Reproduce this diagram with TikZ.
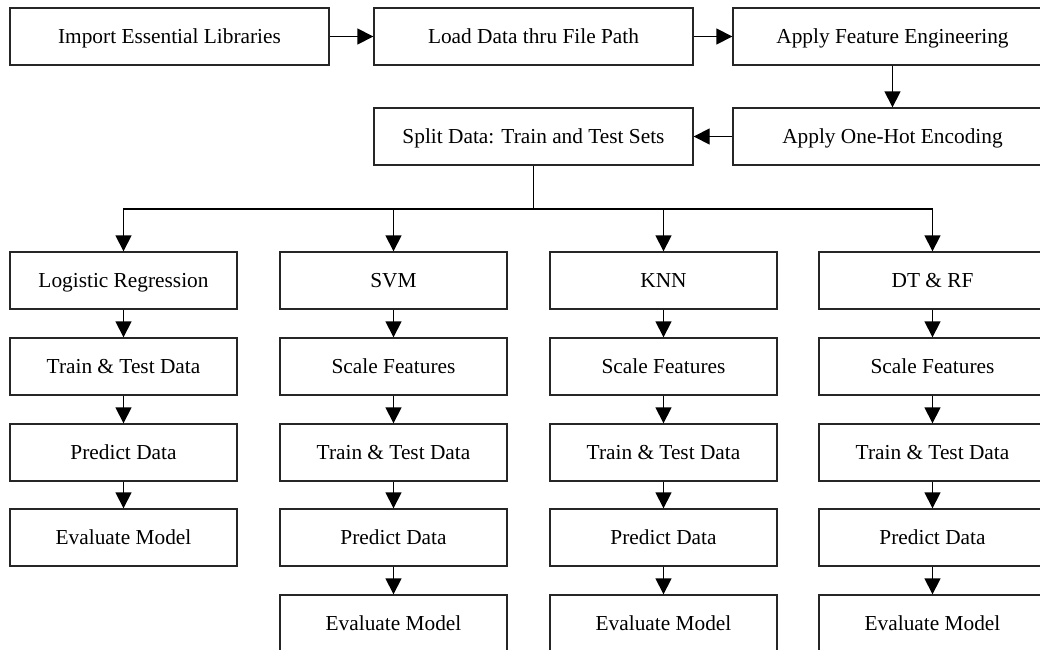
\documentclass[tikz,border=0pt]{standalone}
\usepackage{fontspec}
\setmainfont{Liberation Serif}
\usetikzlibrary{arrows.meta}
\begin{document}
\begin{tikzpicture}[x=0.75pt,y=-0.75pt,
  basebox/.style={draw=black!85, line width=1pt, minimum height=42.75pt, inner sep=0pt, text height=10.8pt, text depth=0pt, font=\fontsize{16}{19}\selectfont},
  topbox/.style={basebox, minimum width=239.25pt},
  colbox/.style={basebox, minimum width=170.25pt},
  arr/.style={line width=1pt, -{Triangle[length=12pt,width=12pt]}},
  plain/.style={line width=1pt}]
\useasboundingbox (0,0) rectangle (1040,650);
\clip (0,0) rectangle (1040,650);
% top rows
\node[topbox] (imp) at (169.5,36.5) {Import Essential Libraries};
\node[topbox] (load) at (533.5,36.5) {Load Data thru File Path};
\node[topbox] (feat) at (892.5,36.5) {Apply Feature Engineering};
\node[topbox] (split) at (533.5,136.5) {Split Data: Train and Test Sets};
\node[topbox] (hot) at (892.5,136.5) {Apply One-Hot Encoding};
\draw[arr] (imp.east) -- (load.west);
\draw[arr] (load.east) -- (feat.west);
\draw[arr] (feat.south) -- (hot.north);
\draw[arr] (hot.west) -- (split.east);
% columns
\node[colbox] (lr) at (123.5,280.5) {Logistic Regression};
\node[colbox] (lrtt) at (123.5,366.5) {Train \& Test Data};
\node[colbox] (lrpd) at (123.5,452.5) {Predict Data};
\node[colbox] (lrev) at (123.5,537.5) {Evaluate Model};
\node[colbox] (svm) at (393.5,280.5) {SVM};
\node[colbox] (svsc) at (393.5,366.5) {Scale Features};
\node[colbox] (svtt) at (393.5,452.5) {Train \& Test Data};
\node[colbox] (svpd) at (393.5,537.5) {Predict Data};
\node[colbox] (svev) at (393.5,623.5) {Evaluate Model};
\node[colbox] (knn) at (663.5,280.5) {KNN};
\node[colbox] (knsc) at (663.5,366.5) {Scale Features};
\node[colbox] (kntt) at (663.5,452.5) {Train \& Test Data};
\node[colbox] (knpd) at (663.5,537.5) {Predict Data};
\node[colbox] (knev) at (663.5,623.5) {Evaluate Model};
\node[colbox] (dt) at (932.5,280.5) {DT \& RF};
\node[colbox] (dtsc) at (932.5,366.5) {Scale Features};
\node[colbox] (dttt) at (932.5,452.5) {Train \& Test Data};
\node[colbox] (dtpd) at (932.5,537.5) {Predict Data};
\node[colbox] (dtev) at (932.5,623.5) {Evaluate Model};
% bus
\coordinate (bus) at (533.5,209);
\draw[plain] (split.south) -- (bus);
\draw[arr] (bus) -| (lr.north);
\draw[arr] (bus) -| (svm.north);
\draw[arr] (bus) -| (knn.north);
\draw[arr] (bus) -| (dt.north);
% column arrows
\draw[arr] (lr.south) -- (lrtt.north);
\draw[arr] (lrtt.south) -- (lrpd.north);
\draw[arr] (lrpd.south) -- (lrev.north);
\draw[arr] (svm.south) -- (svsc.north);
\draw[arr] (svsc.south) -- (svtt.north);
\draw[arr] (svtt.south) -- (svpd.north);
\draw[arr] (svpd.south) -- (svev.north);
\draw[arr] (knn.south) -- (knsc.north);
\draw[arr] (knsc.south) -- (kntt.north);
\draw[arr] (kntt.south) -- (knpd.north);
\draw[arr] (knpd.south) -- (knev.north);
\draw[arr] (dt.south) -- (dtsc.north);
\draw[arr] (dtsc.south) -- (dttt.north);
\draw[arr] (dttt.south) -- (dtpd.north);
\draw[arr] (dtpd.south) -- (dtev.north);
\end{tikzpicture}
\end{document}
